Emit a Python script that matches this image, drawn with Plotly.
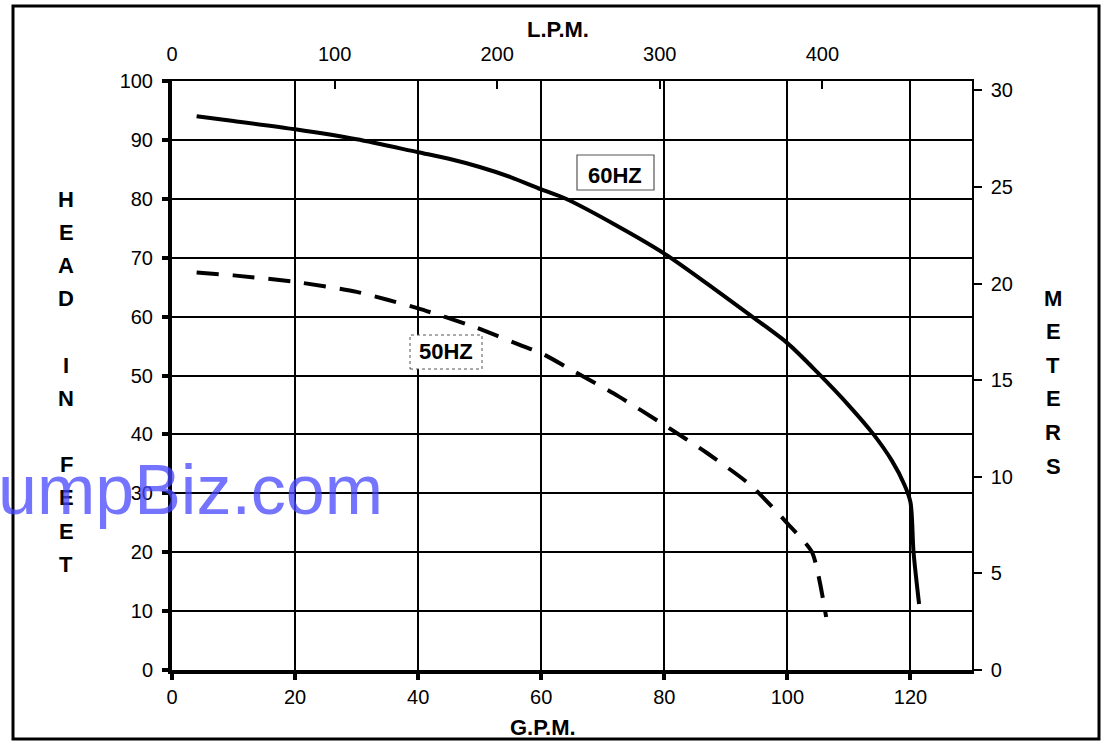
import plotly.graph_objects as go

# ---- data ----
gpm_60 = [4, 10, 20, 30, 40, 45, 50, 55, 60, 64, 72, 80, 88, 94, 100, 105, 110, 114, 117, 119, 120, 120.5, 121.4]
head_60 = [94, 93.2, 91.8, 90.1, 87.9, 86.8, 85.4, 83.7, 81.6, 80.0, 75.6, 70.7, 64.8, 60.2, 55.5, 50.4, 44.9, 40.0, 35.5, 31.5, 28.5, 20.0, 11.2]

gpm_50 = [4, 10, 20, 30, 40, 49, 57, 60, 65, 72.5, 80, 87, 94, 100, 104, 106.3]
head_50 = [67.5, 67.0, 65.9, 64.2, 61.4, 58.3, 55.0, 53.8, 50.9, 46.5, 41.6, 36.8, 31.4, 24.9, 20.0, 9.0]

gpm_ticks = [0, 20, 40, 60, 80, 100, 120]
feet_ticks = [0, 10, 20, 30, 40, 50, 60, 70, 80, 90, 100]
lpm_ticks = [0, 100, 200, 300, 400]
meter_ticks = [0, 5, 10, 15, 20, 25, 30]

GPM_MAX = 130
FT_MAX = 100
LPM_PER_GPM = 3.785
M_PER_FT = 0.3048

label_60 = ("60HZ", 72, 84.0)
label_50 = ("50HZ", 44.5, 54.0)

FONT = "Liberation Sans, Arial, sans-serif"

fig = go.Figure()
fig.add_trace(go.Scatter(x=gpm_60, y=head_60, mode="lines",
                         line=dict(color="black", width=4, shape="spline", smoothing=0.8),
                         showlegend=False, hoverinfo="skip"))
fig.add_trace(go.Scatter(x=gpm_50, y=head_50, mode="lines",
                         line=dict(color="black", width=4, dash="22px,14px", shape="spline", smoothing=0.6),
                         showlegend=False, hoverinfo="skip"))
# invisible trace for secondary axes
fig.add_trace(go.Scatter(x=[0], y=[0], xaxis="x2", yaxis="y2", mode="markers",
                         marker=dict(opacity=0), showlegend=False, hoverinfo="skip"))

tickfont = dict(family=FONT, size=20, color="black")

fig.update_layout(
    width=1103, height=744,
    margin=dict(l=172, r=131, t=81, b=74),
    paper_bgcolor="white", plot_bgcolor="white",
    xaxis=dict(range=[0, GPM_MAX], tickvals=gpm_ticks,
               showgrid=True, gridcolor="black", gridwidth=2,
               showline=True, linecolor="black", linewidth=4,
               ticks="outside", ticklen=6, tickwidth=4, tickcolor="black",
               tickfont=tickfont, zeroline=False, fixedrange=True),
    yaxis=dict(range=[0, FT_MAX], tickvals=feet_ticks,
               showgrid=True, gridcolor="black", gridwidth=2,
               showline=True, linecolor="black", linewidth=4,
               ticks="outside", ticklen=6, tickwidth=4, tickcolor="black",
               ticklabelstandoff=5,
               tickfont=tickfont, zeroline=False, fixedrange=True),
    xaxis2=dict(range=[0, GPM_MAX * LPM_PER_GPM], tickvals=lpm_ticks, overlaying="x",
                side="top", showgrid=False, showline=True, linecolor="black", linewidth=1.5,
                ticks="inside", ticklen=8, tickwidth=1.5, tickcolor="black",
                ticklabelstandoff=10,
                tickfont=tickfont, zeroline=False, fixedrange=True),
    yaxis2=dict(range=[0, FT_MAX * M_PER_FT], tickvals=meter_ticks, overlaying="y",
                side="right", showgrid=False, showline=True, linecolor="black", linewidth=1.5,
                ticks="outside", ticklen=8, tickwidth=1.5, tickcolor="black",
                ticklabelstandoff=5,
                tickfont=tickfont, zeroline=False, fixedrange=True),
)

def px_x(p):
    return (p - 172) / 800.0

def px_y(p):
    return (670 - p) / 589.0

annotations = []
# curve labels (boxes drawn as shapes below)
annotations.append(dict(x=label_60[1], y=label_60[2], xref="x", yref="y", text="<b>" + label_60[0] + "</b>",
                        xanchor="center", yanchor="middle",
                        showarrow=False, font=dict(family=FONT, size=22, color="black")))
annotations.append(dict(x=label_50[1], y=label_50[2], xref="x", yref="y", text="<b>" + label_50[0] + "</b>",
                        xanchor="center", yanchor="middle",
                        showarrow=False, font=dict(family=FONT, size=22, color="black")))
# axis titles
annotations.append(dict(x=px_x(558), y=px_y(30), xref="paper", yref="paper", text="<b>L.P.M.</b>",
                        xanchor="center", yanchor="middle",
                        showarrow=False, font=dict(family=FONT, size=22, color="black")))
annotations.append(dict(x=px_x(543), y=px_y(727), xref="paper", yref="paper", text="<b>G.P.M.</b>",
                        xanchor="center", yanchor="middle",
                        showarrow=False, font=dict(family=FONT, size=22, color="black")))
for i, ch in enumerate("HEAD IN FEET"):
    if ch == " ":
        continue
    annotations.append(dict(x=px_x(66), y=px_y(199 + 33.2 * i), xref="paper", yref="paper",
                            xanchor="center", yanchor="middle",
                            text="<b>" + ch + "</b>", showarrow=False,
                            font=dict(family=FONT, size=22, color="black")))
for i, ch in enumerate("METERS"):
    annotations.append(dict(x=px_x(1053), y=px_y(298 + 33.6 * i), xref="paper", yref="paper",
                            xanchor="center", yanchor="middle",
                            text="<b>" + ch + "</b>", showarrow=False,
                            font=dict(family=FONT, size=22, color="black")))
# watermark
annotations.append(dict(x=px_x(-4), y=px_y(490), xref="paper", yref="paper",
                        xanchor="left", yanchor="middle",
                        text="umpBiz.com", showarrow=False, opacity=0.75,
                        font=dict(family=FONT, size=70, color="rgb(70,70,255)")))
fig.update_layout(annotations=annotations)

shapes = [
    # outer frame
    dict(type="rect", xref="paper", yref="paper", x0=px_x(13), x1=px_x(1099), y0=px_y(739), y1=px_y(6),
         line=dict(color="black", width=3), layer="above"),
    # solid border box for 60HZ label
    dict(type="rect", xref="paper", yref="paper", x0=px_x(577), x1=px_x(654), y0=px_y(190), y1=px_y(155),
         line=dict(color="#555555", width=1.2), fillcolor="white", layer="above"),
    # dotted border box for 50HZ label
    dict(type="rect", xref="paper", yref="paper", x0=px_x(410), x1=px_x(482), y0=px_y(369), y1=px_y(335),
         line=dict(color="#555555", width=1, dash="dot"), fillcolor="white", layer="above"),
]
fig.update_layout(shapes=shapes)

fig.write_html("out.html", config={"displayModeBar": False},
               post_script="document.body.style.margin='0';document.body.style.overflow='hidden';")
